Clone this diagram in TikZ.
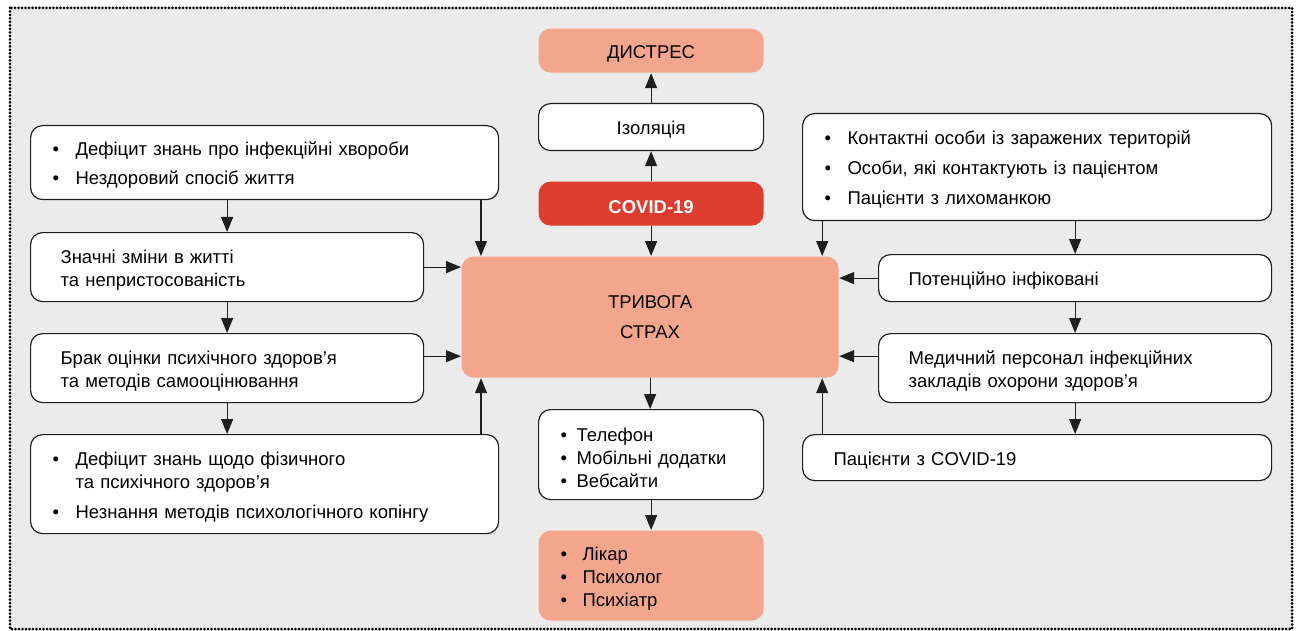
\documentclass[tikz,border=0pt]{standalone}
\usepackage{fontspec}
\setmainfont{Liberation Sans}
\usetikzlibrary{arrows.meta,positioning}
\definecolor{bgGray}{HTML}{EBEBEB}
\definecolor{boxLine}{HTML}{1E1E1E}
\definecolor{salmon}{HTML}{F4A68C}
\definecolor{covidRed}{HTML}{DD3C2F}
\newcommand{\myFont}{\fontsize{18.5}{23}\selectfont}
\newcommand{\myBullet}[1][23pt]{\makebox[#1][l]{•}}
\tikzset{
myBox/.style={
	draw=boxLine, fill=white, line width=1.2pt,
	rounded corners=12pt, anchor=north west,
	inner ysep=0pt, align=left, font=\myFont,
	execute at begin node={\rule{0pt}{19pt}}
}
, myMid/.style={
	myBox, align=center, minimum width=225pt
}
, mySalmon/.style={
	myMid, draw=none, fill=salmon
}
, myRed/.style={
	myMid, draw=none, fill=covidRed, text=white, font=\myFont\bfseries
}
% links
, myLink/.style={-{Triangle[length=15pt,width=12pt]}, line width=1.2pt, color=boxLine}
}
\begin{document}
\begin{tikzpicture}[x=1pt,y=-1pt]
	\useasboundingbox (0,0) rectangle (1298,631);
	\draw[fill=bgGray, line width=3pt, line cap=round, dash pattern=on 0pt off 3.5pt]
		(10,8) rectangle (1292,629);

	% centre column
	\node[mySalmon, minimum height=44pt] (distress) at (538,28) {ДИСТРЕС};
	\node[myMid, minimum height=47pt] (isolation) at (538,103) {Ізоляція};
	\node[myRed, minimum height=44pt] (covid) at (538,181) {COVID-19};
	\node[myBox, draw=none, fill=salmon, align=center, minimum width=377pt, minimum height=121pt]
		(anxiety) at (461,256) {ТРИВОГА\\[7pt]СТРАХ};
	\node[myBox, minimum width=225pt, minimum height=90pt, text width=181pt, inner xsep=22pt]
		(gadgets) at (538,409) {\myBullet[16pt]Телефон\\ \myBullet[16pt]Мобільні додатки\\ \myBullet[16pt]Вебсайти};
	\node[myBox, draw=none, fill=salmon, minimum width=225pt, minimum height=90pt, text width=181pt, inner xsep=22pt]
		(doctors) at (538,530) {\myBullet[22pt]Лікар\\ \myBullet[22pt]Психолог\\ \myBullet[22pt]Психіатр};

	% left column
	\node[myBox, minimum width=468pt, minimum height=74pt, text width=424pt, inner xsep=22pt]
		(deficit) at (30,125) {\myBullet Дефіцит знань про інфекційні хвороби\\[6pt] \myBullet Нездоровий спосіб життя};
	\node[myBox, minimum width=393pt, minimum height=69pt, text width=333pt, inner xsep=30pt]
		(changes) at (30,232) {Значні зміни в житті\\та непристосованість};
	\node[myBox, minimum width=393pt, minimum height=69pt, text width=333pt, inner xsep=30pt]
		(lack) at (30,333) {Брак оцінки психічного здоров’я\\та методів самооцінювання};
	\node[myBox, minimum width=468pt, minimum height=99pt, text width=424pt, inner xsep=22pt]
		(knowledge) at (30,434) {\myBullet Дефіцит знань щодо фізичного\\ \hspace*{23pt}та психічного здоров’я\\[7pt] \myBullet Незнання методів психологічного копінгу};

	% right column
	\node[myBox, minimum width=469pt, minimum height=107pt, text width=425pt, inner xsep=22pt]
		(contacts) at (802,113) {\myBullet Контактні особи із заражених територій\\[7pt] \myBullet Особи, які контактують із пацієнтом\\[7pt] \myBullet Пацієнти з лихоманкою};
	\node[myBox, minimum width=393pt, minimum height=47pt, text width=333pt, inner xsep=30pt]
		(potential) at (878,254) {Потенційно інфіковані};
	\node[myBox, minimum width=393pt, minimum height=69pt, text width=333pt, inner xsep=30pt]
		(staff) at (878,333) {Медичний персонал інфекційних\\закладів охорони здоров’я};
	\node[myBox, minimum width=469pt, minimum height=46pt, text width=407pt, inner xsep=31pt]
		(patients) at (802,434) {Пацієнти з COVID-19};

	% helper points on the centre box
	\coordinate (leftIn) at ([xshift=20pt]anxiety.north west);
	\coordinate (rightIn) at ([xshift=-17pt]anxiety.north east);
	\coordinate (lowIn) at ([yshift=22pt]anxiety.south west);

	% links
	\draw[myLink] (covid) -- (isolation);
	\draw[myLink] (isolation) -- (distress);
	\draw[myLink] (covid.south) -- (covid.south |- anxiety.north);
	\draw[myLink] (anxiety.south) -- (anxiety.south |- gadgets.north);
	\draw[myLink] (gadgets) -- (doctors);

	\draw[myLink] (changes.north |- deficit.south) -- (changes.north);
	\draw[myLink] (changes) -- (lack);
	\draw[myLink] (lack.south) -- (lack.south |- knowledge.north);
	\draw[myLink] (leftIn |- deficit.south) -- (leftIn);
	\draw[myLink] (changes.east) -- (changes.east -| anxiety.west);
	\draw[myLink] (lack.east |- lowIn) -- (lowIn);
	\draw[myLink] (leftIn |- knowledge.north) -- (leftIn |- anxiety.south);

	\draw[myLink] (potential.north |- contacts.south) -- (potential.north);
	\draw[myLink] (potential) -- (staff);
	\draw[myLink] (staff.south) -- (staff.south |- patients.north);
	\draw[myLink] (rightIn |- contacts.south) -- (rightIn);
	\draw[myLink] (potential.west) -- (potential.west -| anxiety.east);
	\draw[myLink] (staff.west |- lowIn) -- (anxiety.east |- lowIn);
	\draw[myLink] (rightIn |- patients.north) -- (rightIn |- anxiety.south);
\end{tikzpicture}
\end{document}
